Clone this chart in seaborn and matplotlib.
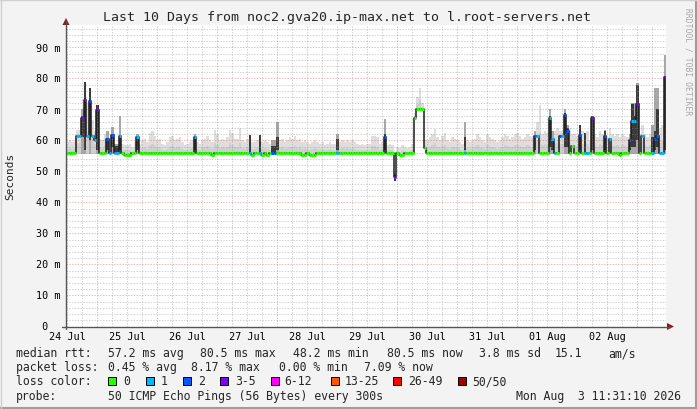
import numpy as np
import pandas as pd
import matplotlib
matplotlib.use("Agg")
import matplotlib.pyplot as plt
from matplotlib.patches import Rectangle, Polygon
from matplotlib.lines import Line2D
import seaborn as sns

# ---------------- data ----------------
title = "Last 10 Days from noc2.gva20.ip-max.net to l.root-servers.net"
day_labels = ["24 Jul", "25 Jul", "26 Jul", "27 Jul", "28 Jul",
              "29 Jul", "30 Jul", "31 Jul", "01 Aug", "02 Aug"]
y_ticks = [0, 10, 20, 30, 40, 50, 60, 70, 80, 90]
y_tick_labels = [" 0", "10 m", "20 m", "30 m", "40 m", "50 m", "60 m", "70 m", "80 m", "90 m"]
loss_names = ["0", "1", "2", "3-5", "6-12", "13-25", "26-49", "50/50"]
loss_colors = ["#26ff00", "#00b8ff", "#0059ff", "#7e00ff",
               "#ff00ff", "#ff5500", "#ff0000", "#a00000"]

# hourly median rtt (ms), 10 days x 24 bins
median = [
    55.8, 55.8, 55.8, 55.8, 61.3, 61.3, 67.4, 73.0, 61.4, 72.6, 61.4, 60.3, 69.8, 55.8, 55.8, 55.8, 60.6, 55.8, 61.7, 55.8, 55.8, 61.3, 55.8, 55.3,
    55.3, 55.3, 55.8, 55.8, 61.2, 55.8, 55.8, 55.8, 55.8, 55.8, 55.8, 55.8, 55.8, 55.8, 55.8, 55.8, 55.8, 55.8, 55.8, 55.8, 55.8, 55.8, 55.8, 55.8,
    55.8, 55.8, 55.8, 61.2, 55.8, 55.8, 55.8, 55.8, 55.8, 55.8, 55.3, 55.8, 55.8, 55.8, 55.8, 55.8, 55.8, 55.8, 55.8, 55.8, 55.8, 55.8, 55.8, 55.8,
    55.8, 55.8, 55.3, 55.8, 55.8, 55.8, 55.3, 55.8, 55.3, 55.8, 55.8, 55.8, 55.8, 55.8, 55.8, 55.8, 55.8, 55.8, 55.8, 55.8, 55.8, 55.8, 55.3, 55.3,
    55.8, 55.3, 55.3, 55.3, 55.8, 55.8, 55.8, 55.8, 55.8, 55.8, 55.8, 55.8, 55.8, 55.8, 55.8, 55.8, 55.8, 55.8, 55.8, 55.8, 55.8, 55.8, 55.8, 55.8,
    55.8, 55.8, 55.8, 55.8, 55.8, 55.8, 55.8, 61.2, 55.8, 55.8, 55.8, 48.2, 55.8, 55.3, 55.3, 55.8, 55.8, 55.8, 55.8, 67.3, 70.1, 70.1, 70.1, 57.6,
    55.8, 55.8, 55.8, 55.8, 55.8, 55.8, 55.8, 55.8, 55.8, 55.8, 55.8, 55.8, 55.8, 55.8, 55.8, 55.8, 55.8, 55.8, 55.8, 55.8, 55.8, 55.8, 55.8, 55.8,
    55.8, 55.8, 55.8, 55.8, 55.8, 55.8, 55.8, 55.8, 55.8, 55.8, 55.8, 55.8, 55.8, 55.8, 55.8, 55.8, 55.8, 55.8, 55.8, 61.4, 61.4, 55.8, 55.8, 55.8,
    55.8, 67.1, 60.5, 55.8, 55.8, 61.5, 61.3, 68.2, 63.1, 55.8, 58.2, 55.8, 55.8, 61.8, 55.8, 55.8, 55.8, 55.8, 67.1, 55.8, 55.8, 55.8, 55.8, 61.5,
    55.8, 60.5, 55.8, 55.8, 55.8, 55.3, 55.8, 55.8, 55.8, 60.2, 66.3, 66.3, 71.6, 55.8, 61.5, 55.8, 55.8, 55.8, 55.8, 60.5, 61.5, 55.8, 55.8, 80.5,
]

# loss class per hour (index into loss_names)
loss = [
    0, 0, 0, 0, 1, 1, 3, 3, 1, 2, 1, 1, 3, 0, 0, 0, 2, 1, 2, 1, 1, 1, 0, 0,
    0, 0, 0, 0, 1, 0, 0, 0, 0, 0, 0, 0, 0, 0, 0, 0, 0, 0, 0, 0, 0, 0, 0, 0,
    0, 0, 0, 1, 0, 0, 0, 0, 0, 0, 0, 0, 0, 0, 0, 0, 0, 0, 0, 0, 0, 0, 0, 0,
    0, 1, 0, 0, 0, 1, 0, 0, 0, 0, 2, 2, 0, 0, 0, 0, 0, 0, 0, 0, 0, 0, 0, 0,
    0, 0, 0, 0, 0, 0, 0, 0, 0, 0, 0, 0, 1, 0, 0, 0, 0, 0, 0, 0, 0, 0, 0, 0,
    0, 0, 0, 0, 0, 0, 0, 2, 0, 0, 0, 3, 0, 0, 0, 0, 0, 0, 0, 0, 0, 0, 0, 0,
    0, 0, 0, 0, 0, 0, 0, 0, 0, 0, 0, 0, 0, 0, 0, 1, 0, 0, 0, 0, 0, 0, 0, 0,
    0, 0, 0, 0, 0, 0, 0, 0, 0, 0, 0, 0, 0, 0, 0, 0, 0, 0, 0, 2, 1, 0, 0, 0,
    0, 1, 1, 1, 0, 2, 1, 2, 2, 0, 0, 0, 0, 2, 0, 1, 1, 0, 3, 0, 0, 0, 0, 2,
    0, 1, 0, 0, 0, 0, 0, 0, 0, 2, 1, 1, 3, 0, 1, 0, 0, 0, 1, 2, 2, 1, 1, 3,
]

# smoke (ping spread) lower / upper bound per hour
smoke_lo = [
    55.5, 55.5, 55.5, 55.5, 55.5, 55.5, 55.5, 55.5, 55.5, 55.5, 55.5, 55.5, 55.5, 55.5, 55.5, 55.5, 55.5, 55.5, 55.5, 55.5, 55.5, 55.5, 55.5, 55.5,
    55.5, 55.5, 55.5, 55.5, 55.5, 55.5, 55.5, 55.5, 55.5, 55.5, 55.5, 55.5, 55.5, 55.5, 55.5, 55.5, 55.5, 55.5, 55.5, 55.5, 55.5, 55.5, 55.5, 55.5,
    55.5, 55.5, 55.5, 55.5, 55.5, 55.5, 55.5, 55.5, 55.5, 55.5, 55.5, 55.5, 55.5, 55.5, 55.5, 55.5, 55.5, 55.5, 55.5, 55.5, 55.5, 55.5, 55.5, 55.5,
    55.5, 55.5, 55.5, 55.5, 55.5, 55.5, 55.5, 55.5, 55.5, 55.5, 55.5, 55.5, 55.5, 55.5, 55.5, 55.5, 55.5, 55.5, 55.5, 55.5, 55.5, 55.5, 55.5, 55.5,
    55.5, 55.5, 55.5, 55.5, 55.5, 55.5, 55.5, 55.5, 55.5, 55.5, 55.5, 55.5, 55.5, 55.5, 55.5, 55.5, 55.5, 55.5, 55.5, 55.5, 55.5, 55.5, 55.5, 55.5,
    55.5, 55.5, 55.5, 55.5, 55.5, 55.5, 55.5, 55.5, 55.5, 55.5, 55.5, 46.8, 55.5, 55.5, 55.5, 55.5, 55.5, 55.5, 55.5, 67.0, 69.8, 69.8, 69.8, 57.3,
    55.5, 55.5, 55.5, 55.5, 55.5, 55.5, 55.5, 55.5, 55.5, 55.5, 55.5, 55.5, 55.5, 55.5, 55.5, 55.5, 55.5, 55.5, 55.5, 55.5, 55.5, 55.5, 55.5, 55.5,
    55.5, 55.5, 55.5, 55.5, 55.5, 55.5, 55.5, 55.5, 55.5, 55.5, 55.5, 55.5, 55.5, 55.5, 55.5, 55.5, 55.5, 55.5, 55.5, 55.5, 55.5, 55.5, 55.5, 55.5,
    55.5, 55.5, 55.5, 55.5, 55.5, 55.5, 55.5, 55.5, 55.5, 55.5, 55.5, 55.5, 55.5, 55.5, 55.5, 55.5, 55.5, 55.5, 55.5, 55.5, 55.5, 55.5, 55.5, 55.5,
    55.5, 55.5, 55.5, 55.5, 55.5, 55.5, 55.5, 55.5, 55.5, 55.5, 55.5, 55.5, 55.5, 55.5, 55.5, 55.5, 55.5, 55.5, 55.5, 55.5, 55.5, 55.5, 55.5, 55.5,
]
smoke_hi = [
    59.5, 60.0, 59.5, 60.0, 63.5, 63.5, 70.0, 79.0, 72.0, 77.0, 66.6, 63.0, 71.5, 60.5, 60.0, 62.0, 63.0, 60.0, 64.5, 59.0, 59.0, 67.8, 59.0, 58.5,
    58.5, 59.0, 58.0, 59.5, 62.0, 59.0, 60.0, 60.5, 59.5, 62.5, 63.0, 61.5, 60.0, 60.5, 59.0, 58.5, 59.5, 61.0, 61.5, 60.0, 60.5, 61.0, 59.5, 58.5,
    59.0, 59.5, 60.0, 62.0, 59.5, 59.0, 60.0, 60.5, 61.5, 60.0, 59.5, 63.5, 62.0, 60.0, 60.5, 60.0, 61.0, 63.5, 62.5, 60.6, 60.5, 64.0, 60.0, 59.5,
    60.5, 61.7, 59.5, 59.5, 60.0, 61.7, 59.5, 60.0, 59.6, 59.0, 60.0, 60.0, 66.0, 60.0, 60.5, 59.5, 60.0, 61.0, 60.5, 61.5, 60.0, 60.5, 59.5, 60.0,
    59.5, 59.0, 59.5, 60.0, 59.5, 59.0, 59.5, 58.5, 59.0, 59.5, 59.0, 59.0, 62.0, 59.5, 60.0, 59.5, 60.0, 59.5, 60.0, 59.5, 59.0, 58.5, 59.0, 58.5,
    59.0, 59.0, 61.5, 61.6, 61.0, 59.0, 59.5, 67.0, 58.5, 59.0, 58.5, 49.5, 58.0, 57.5, 58.5, 58.0, 57.5, 58.0, 59.0, 69.0, 74.0, 76.8, 72.0, 60.0,
    60.0, 61.0, 62.0, 63.8, 61.0, 60.0, 61.5, 62.5, 60.0, 59.5, 61.0, 60.5, 60.0, 59.5, 59.0, 66.0, 60.0, 59.5, 60.0, 60.5, 62.0, 61.0, 60.0, 59.5,
    62.0, 61.0, 60.5, 60.0, 59.5, 60.0, 61.0, 62.0, 61.5, 60.5, 61.0, 62.0, 62.5, 61.5, 60.5, 61.0, 62.0, 61.5, 61.0, 63.0, 66.0, 71.5, 62.0, 63.0,
    62.5, 70.0, 63.0, 63.0, 64.0, 63.0, 63.0, 70.3, 65.0, 64.0, 62.0, 62.0, 61.5, 65.0, 63.0, 62.3, 63.0, 60.0, 68.0, 62.0, 61.0, 63.0, 62.0, 63.5,
    61.0, 64.0, 62.0, 61.5, 62.0, 61.0, 62.0, 61.5, 61.0, 62.0, 72.0, 72.0, 78.5, 62.0, 65.0, 62.0, 61.0, 62.0, 65.0, 77.0, 77.0, 64.0, 65.0, 87.6,
]

# hours with a dense (dark) smoke core
dark_bins = [6, 7, 9, 12, 16, 18, 19, 20, 21, 28, 51, 73, 77, 82, 83, 84, 108, 127, 131, 159,
             187, 193, 194, 199, 200, 205, 207, 210, 215, 225, 226, 227, 228, 234, 235, 236, 239]
dark_lo = [61, 57, 60, 57, 57, 58, 55.8, 55.8, 57, 57, 57, 56, 56, 55.8, 55.8, 57, 57, 57, 46.8, 57,
           57, 58, 57, 58, 58, 57, 56, 57, 57, 57, 58, 58, 60, 56, 57, 58, 57]
dark_hi = [68, 78.7, 77, 71.5, 60.6, 61.7, 58.2, 58.2, 61.3, 61.2, 61.2, 61.7, 61.7, 58.2, 58.2, 61, 60.5, 62, 49, 61,
           61.4, 68, 60.5, 69, 64, 65, 62.3, 68, 62.9, 60.2, 71.9, 68, 77.9, 61.2, 63, 70.3, 80.5]

rtt_stats = ["57.2 ms avg", "80.5 ms max", "48.2 ms min", "80.5 ms now", "3.8 ms sd", "15.1", "am/s"]
loss_stats = ["0.45 % avg", "8.17 % max", "0.00 % min", "7.09 % now"]
probe_text = "50 ICMP Echo Pings (56 Bytes) every 300s"
stamp_text = "Mon Aug  3 11:31:10 2026"
start_hour = 11 + 31 / 60 + 10 / 3600   # graph starts Jul 24 11:31:10

# ---------------- layout ----------------
W, H = 697, 410
MONO = "DejaVu Sans Mono"
sns.set_style("white")
plt.rcParams["font.family"] = [MONO, "DejaVu Sans"]

fig = plt.figure(figsize=(W / 100, H / 100), dpi=100, facecolor="#f3f3f3")
ax = fig.add_axes([66 / W, 1 - 327.5 / H, 600 / W, 302 / H])
ax.set_facecolor("white")
ax.set_xlim(0, 240)
ax.set_ylim(0, 97.4)
for s in ax.spines.values():
    s.set_visible(False)
ax.set_xticks([])
ax.set_yticks([])


def fx(px):
    return px / W


def fy(py):
    return 1 - py / H


# grid (semi-transparent dotted, drawn over the smoke like rrdtool)
noon0 = 12 - start_hour
MIN_C, MIN_A = "#909090", 0.4
MAJ_C, MAJ_A = "#e06060", 0.45
for k in range(40):
    t = noon0 + 6 * k
    if t <= 0 or t >= 240:
        continue
    major = (k % 4 == 2)
    ax.axvline(t, color=MAJ_C if major else MIN_C, alpha=MAJ_A if major else MIN_A,
               lw=0.72, ls=(0, (1.4, 1.4)), zorder=2)
for v in range(2, 97, 2):
    major = (v % 10 == 0)
    ax.axhline(v, color=MAJ_C if major else MIN_C, alpha=MAJ_A if major else MIN_A,
               lw=0.72, ls=(0, (1.4, 1.4)), zorder=2)

# smoke
bins = np.arange(240)
lo = np.array(smoke_lo)
hi = np.array(smoke_hi)
ax.bar(bins, hi - lo, bottom=lo, width=1, align="edge", color="#dedede", lw=0, zorder=1)
ax.bar(bins, (hi - lo) * 0.45, bottom=lo, width=1, align="edge", color="#cfcfcf", lw=0, zorder=1.1)
db = np.array(dark_bins)
ax.bar(db, hi[db] - lo[db], bottom=lo[db], width=1, align="edge", color="#a8a8a8", lw=0, zorder=1.2)
ax.bar(db, np.array(dark_hi) - np.array(dark_lo), bottom=dark_lo, width=1, align="edge",
       color="#3a3a3a", lw=0, zorder=1.3)

# median line (dark step line) + loss-coloured segments
df = pd.DataFrame({"t": np.append(bins, 240), "rtt": np.append(median, median[-1])})
sns.lineplot(data=df, x="t", y="rtt", ax=ax, drawstyle="steps-post", color="#1c1c1c",
             lw=1.1, estimator=None, sort=False, zorder=3)
ax.hlines(median, bins, bins + 1, colors=[loss_colors[l] for l in loss], lw=2.2,
          zorder=4, capstyle="butt")
ax.set_xlabel("")
ax.set_ylabel("")
ax.set_xlim(0, 240)
ax.set_ylim(0, 97.4)

# axes lines & arrows
axc = "#555555"
fig.add_artist(Line2D([fx(66), fx(66)], [fy(330), fy(22)], color=axc, lw=1.0))
fig.add_artist(Line2D([fx(62), fx(670)], [fy(327.5), fy(327.5)], color=axc, lw=1.0))
arc = "#8b1a1a"
fig.add_artist(Polygon([[fx(66), fy(19)], [fx(62.5), fy(26)], [fx(69.5), fy(26)]],
                       closed=True, color=arc, lw=0))
fig.add_artist(Polygon([[fx(674), fy(327.5)], [fx(667), fy(324)], [fx(667), fy(331)]],
                       closed=True, color=arc, lw=0))

# tick labels
for v, lab in zip(y_ticks, y_tick_labels):
    fig.text(fx(36), fy(327.5 - v * 3.1), lab, ha="left", va="center",
             fontsize=7.3, family=MONO, color="#000000")
for k, lab in enumerate(day_labels):
    t = noon0 + 24 * k
    fig.text(fx(66 + t * 2.5), fy(337), lab, ha="center", va="center",
             fontsize=7.3, family=MONO, color="#000000")

fig.text(fx(347), fy(18), title, ha="center", va="center", fontsize=9.55, family=MONO)
fig.text(fx(10), fy(176), "Seconds", ha="center", va="center", rotation=90,
         fontsize=8.0, family=MONO)
fig.text(fx(688), fy(62), "RRDTOOL / TOBI OETIKER", ha="center", va="center",
         rotation=270, fontsize=5.8, family=MONO, color="#a8a8a8")

# legend
LF = 8.3
fig.text(fx(16), fy(354), "median rtt:", ha="left", va="center", fontsize=LF, family=MONO)
for xp, s in zip([108, 200, 293, 387, 479, 555, 608], rtt_stats):
    fig.text(fx(xp), fy(354), s, ha="left", va="center", fontsize=LF, family=MONO)
fig.text(fx(16), fy(368), "packet loss:", ha="left", va="center", fontsize=LF, family=MONO)
for xp, s in zip([108, 191, 279, 364], loss_stats):
    fig.text(fx(xp), fy(368), s, ha="left", va="center", fontsize=LF, family=MONO)
fig.text(fx(16), fy(382), "loss color:", ha="left", va="center", fontsize=LF, family=MONO)
box_x = [108, 146, 183, 220, 271, 331, 393, 458]
lab_x = [123.5, 161, 198, 235, 284, 345, 408, 472]
for bx, lx, c, n in zip(box_x, lab_x, loss_colors, loss_names):
    fig.add_artist(Rectangle((fx(bx), fy(386)), 8 / W, 8 / H, facecolor=c,
                             edgecolor="#000000", lw=0.7))
    fig.text(fx(lx), fy(382), n, ha="left", va="center", fontsize=LF, family=MONO)
fig.text(fx(16), fy(396.5), "probe:", ha="left", va="center", fontsize=LF, family=MONO)
fig.text(fx(108), fy(396.5), probe_text, ha="left", va="center", fontsize=LF, family=MONO)
fig.text(fx(681), fy(396.5), stamp_text, ha="right", va="center", fontsize=LF, family=MONO)

# image frame
fig.add_artist(Line2D([0, 1], [fy(409), fy(409)], color="#9c9c9c", lw=1.5))
fig.add_artist(Line2D([fx(696), fx(696)], [0, 1], color="#9c9c9c", lw=1.5))
fig.add_artist(Line2D([0, 1], [fy(0.5), fy(0.5)], color="#d0d0d0", lw=1.0))
fig.add_artist(Line2D([fx(0.5), fx(0.5)], [0, 1], color="#d0d0d0", lw=1.0))

fig.savefig("out.png", dpi=100, facecolor=fig.get_facecolor())
